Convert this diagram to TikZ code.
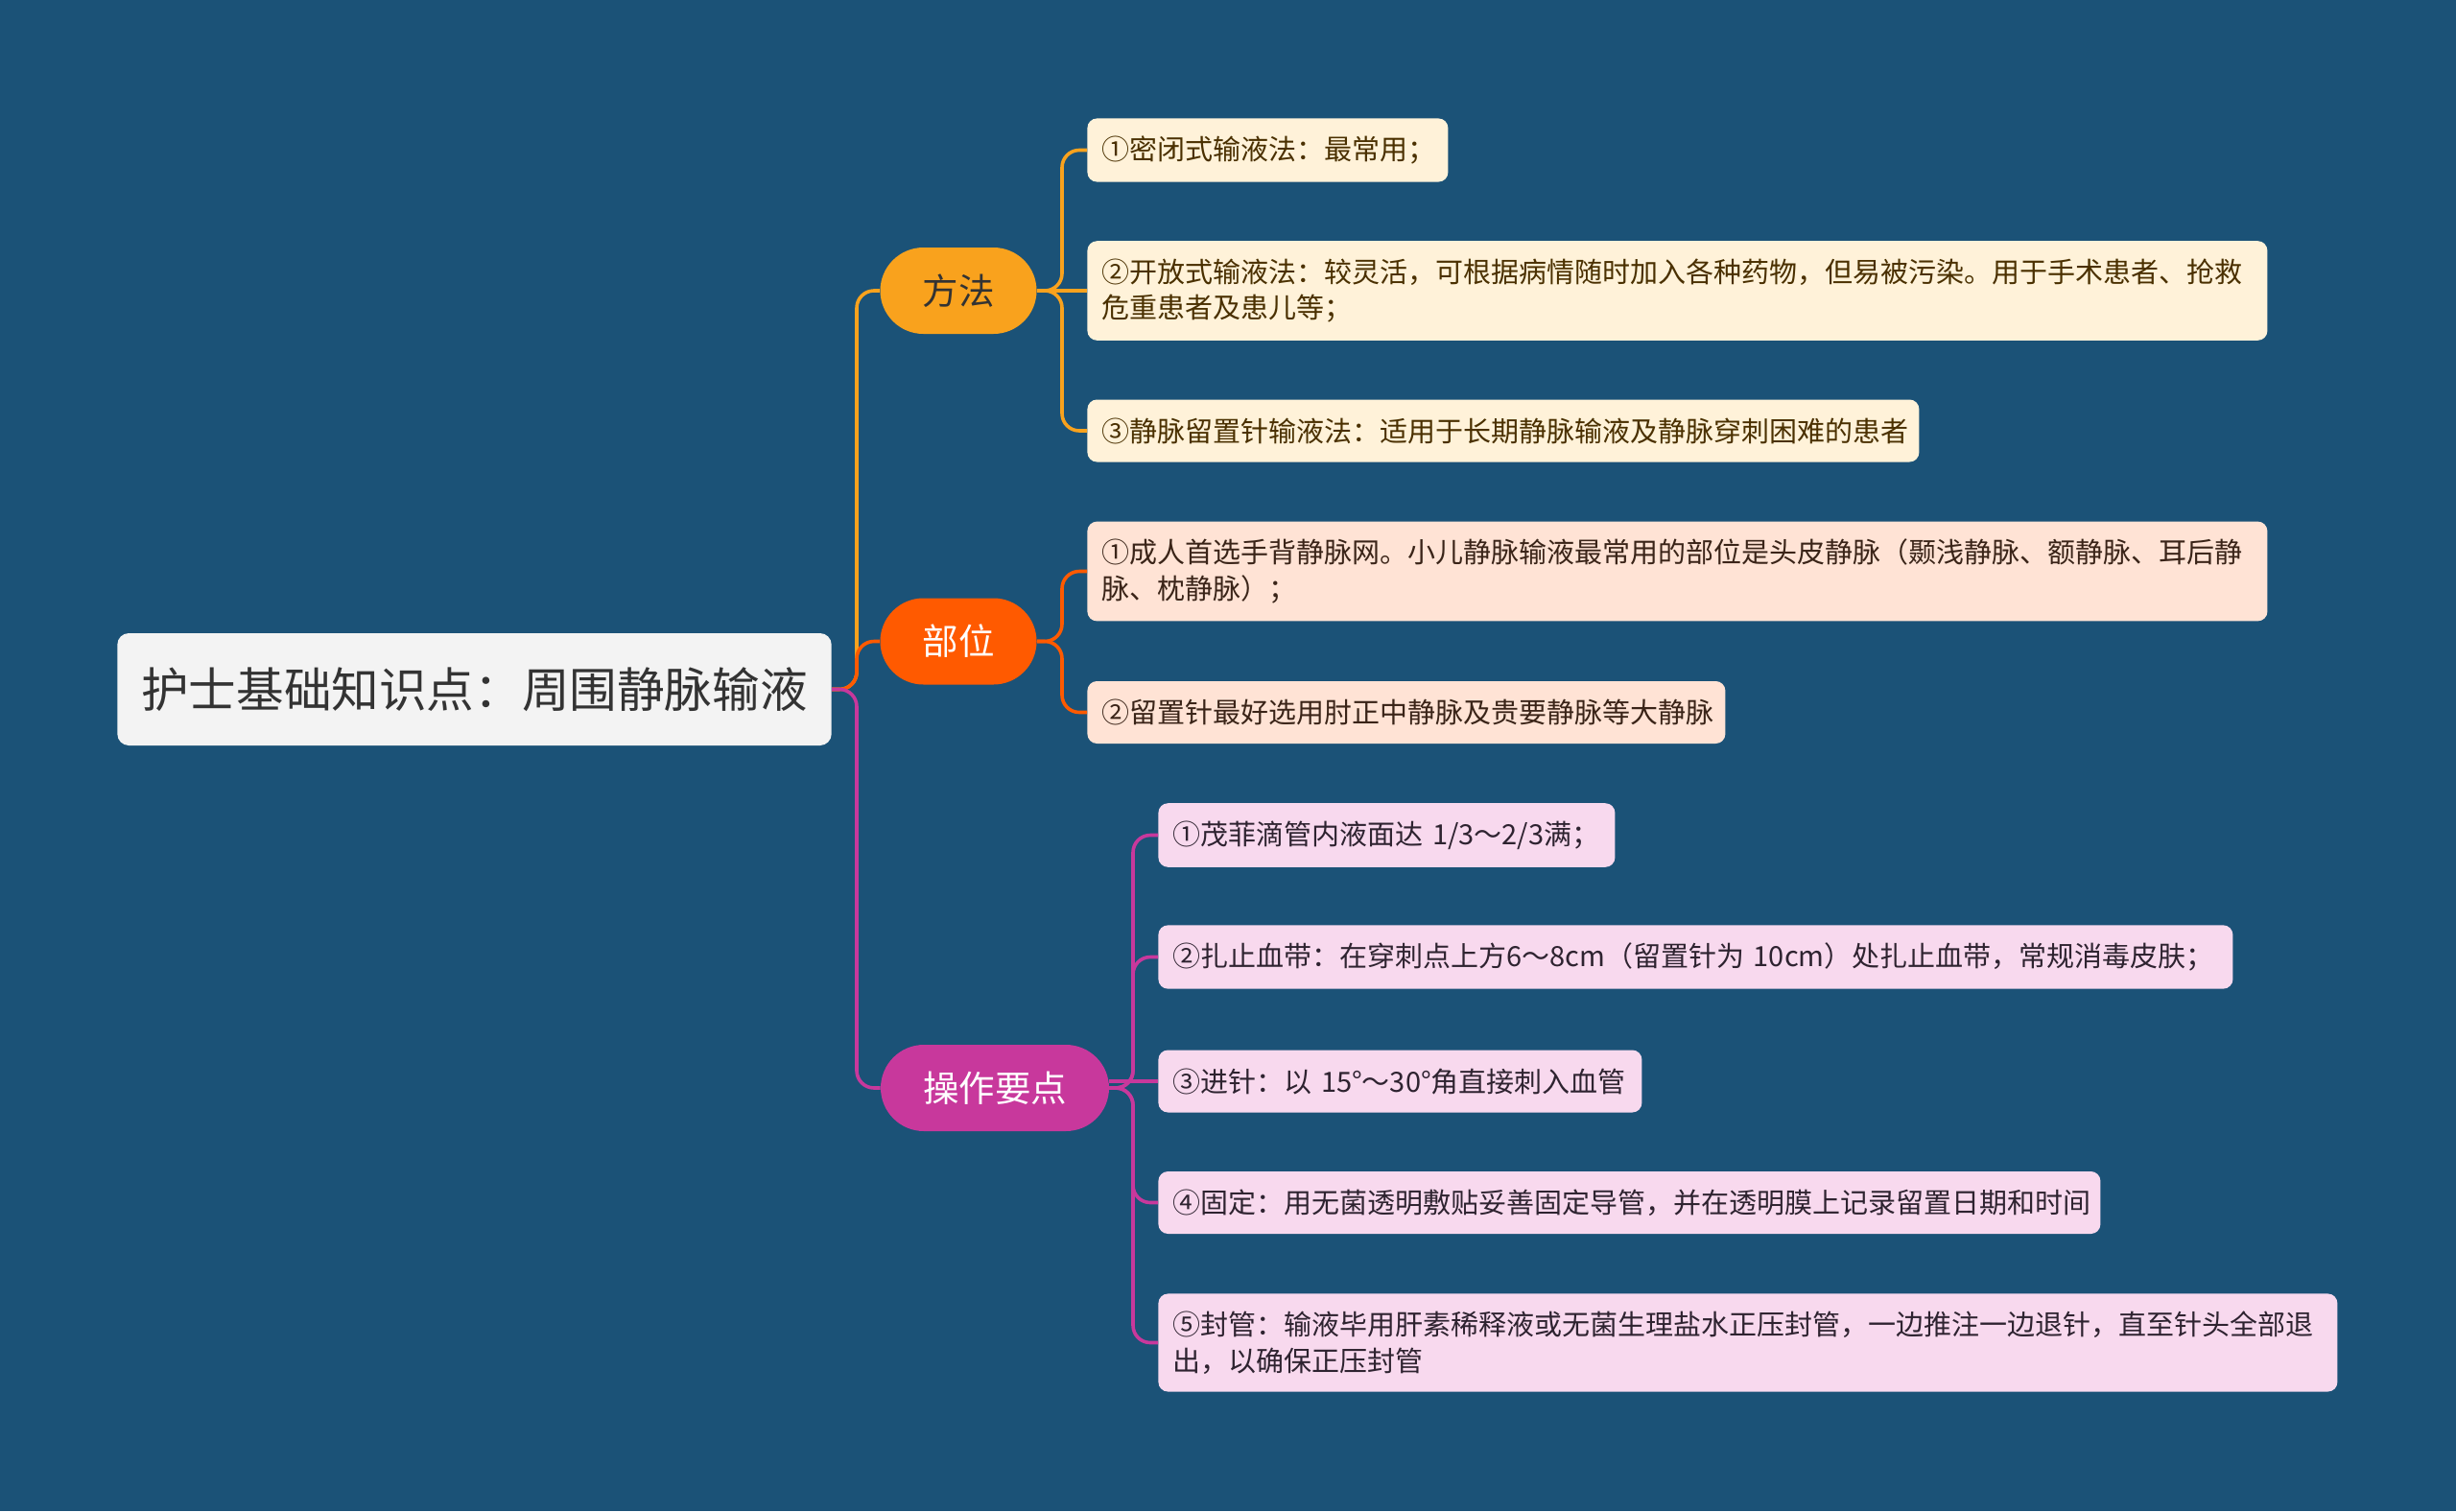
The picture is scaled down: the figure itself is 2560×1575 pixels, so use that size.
\documentclass[tikz,border=0pt]{standalone}
\usepackage{fontspec}
\setmainfont{Noto Sans CJK SC}
\definecolor{bg}{HTML}{1B5277}
\definecolor{cA}{HTML}{F9A21D}
\definecolor{cB}{HTML}{FF5A00}
\definecolor{cC}{HTML}{C8389C}
\definecolor{fA}{HTML}{FFF2D9}
\definecolor{fB}{HTML}{FFE3D5}
\definecolor{fC}{HTML}{F8D9EE}
\definecolor{tA}{HTML}{4A3000}
\definecolor{tB}{HTML}{3A2418}
\definecolor{tC}{HTML}{2E2330}
\definecolor{rootfill}{HTML}{F3F3F3}
\tikzset{
  rootbox/.style={draw=none, fill=rootfill, rounded corners=6pt, inner xsep=12.5pt, minimum height=58.5pt,
    text=black!80, font=\fontsize{24.8pt}{30pt}\selectfont},
  branchbox/.style={draw=none, rounded corners=22.5pt, inner xsep=22pt, minimum height=45pt,
    font=\fontsize{18.75pt}{22pt}\selectfont},
  leafbox/.style={draw=none, anchor=west, rounded corners=5pt, inner xsep=7.5pt, inner ysep=9.2pt,
    minimum height=32.5pt, align=left, font=\fontsize{14.5pt}{18.75pt}\selectfont},
  leafA/.style={leafbox, fill=fA, text=tA},
  leafB/.style={leafbox, fill=fB, text=tB},
  leafC/.style={leafbox, fill=fC, text=tC},
  conn/.style={line width=1.8pt, rounded corners=9pt},
  flat/.style={line width=1.8pt},
}
\begin{document}
\begin{tikzpicture}[x=0.5pt, y=-0.5pt]
\fill[bg] (0,0) rectangle (2560,1575);
\useasboundingbox (0,0) rectangle (2560,1575);

% root
\node[rootbox] (root) at (494.5,718.5) {护士基础知识点：周围静脉输液};

% branches
\node[branchbox, fill=cA, text=black!80] (b1) at (999,303) {方法};
\node[branchbox, fill=cB, text=white] (b2) at (999,668.5) {部位};
\node[branchbox, fill=cC, text=white] (b3) at (1037,1134) {操作要点};

% leaves
\node[leafA, text width=173pt] (a1) at (1133,156.5) {①密闭式输液法：最常用；};
\node[leafA, text width=600pt] (a2) at (1133,303) {②开放式输液法：较灵活，可根据病情随时加入各种药物，但易被污染。用于手术患者、抢救\\危重患者及患儿等；};
\node[leafA, text width=418.5pt] (a3) at (1133,449) {③静脉留置针输液法：适用于长期静脉输液及静脉穿刺困难的患者};

\node[leafB, text width=600pt] (p1) at (1133,595.5) {①成人首选手背静脉网。小儿静脉输液最常用的部位是头皮静脉（颞浅静脉、额静脉、耳后静\\脉、枕静脉）；};
\node[leafB, text width=317.5pt] (p2) at (1133,742.5) {②留置针最好选用肘正中静脉及贵要静脉等大静脉};

\node[leafC, text width=223pt] (o1) at (1207,870.5) {①茂菲滴管内液面达~1/3～2/3满；};
\node[leafC, text width=545pt] (o2) at (1207,997.5) {②扎止血带：在穿刺点上方6～8cm（留置针为~10cm）处扎止血带，常规消毒皮肤；};
\node[leafC, text width=237pt] (o3) at (1207,1127) {③进针：以~15°～30°角直接刺入血管};
\node[leafC, text width=476pt] (o4) at (1207,1253.5) {④固定：用无菌透明敷贴妥善固定导管，并在透明膜上记录留置日期和时间};
\node[leafC, text width=599.5pt] (o5) at (1207,1399.5) {⑤封管：输液毕用肝素稀释液或无菌生理盐水正压封管，一边推注一边退针，直至针头全部退\\出，以确保正压封管};

% junction coordinates
\coordinate (rj) at (893,718.5);
\coordinate (j1) at (1107,303);
\coordinate (j2) at (1107,668.5);
\coordinate (j3) at (1181,1134);

% root connectors
\draw[conn, cA] (root.east) -- (rj) |- (b1.west);
\draw[conn, cB] (root.east) -- (rj) |- (b2.west);
\draw[conn, cC] (root.east) -- (rj) |- (b3.west);

% branch connectors
\foreach \l in {a1,a3} \draw[conn, cA] (b1.east) -- (j1) |- (\l.west);
\draw[flat, cA] (b1.east) -- (a2.west);
\foreach \l in {p1,p2} \draw[conn, cB] (b2.east) -- (j2) |- (\l.west);
\foreach \l in {o1,o2,o4,o5} \draw[conn, cC] (b3.east) -- (j3) |- (\l.west);
\draw[flat, cC] (b3.east|-o3.west) -- (o3.west);
\end{tikzpicture}
\end{document}
